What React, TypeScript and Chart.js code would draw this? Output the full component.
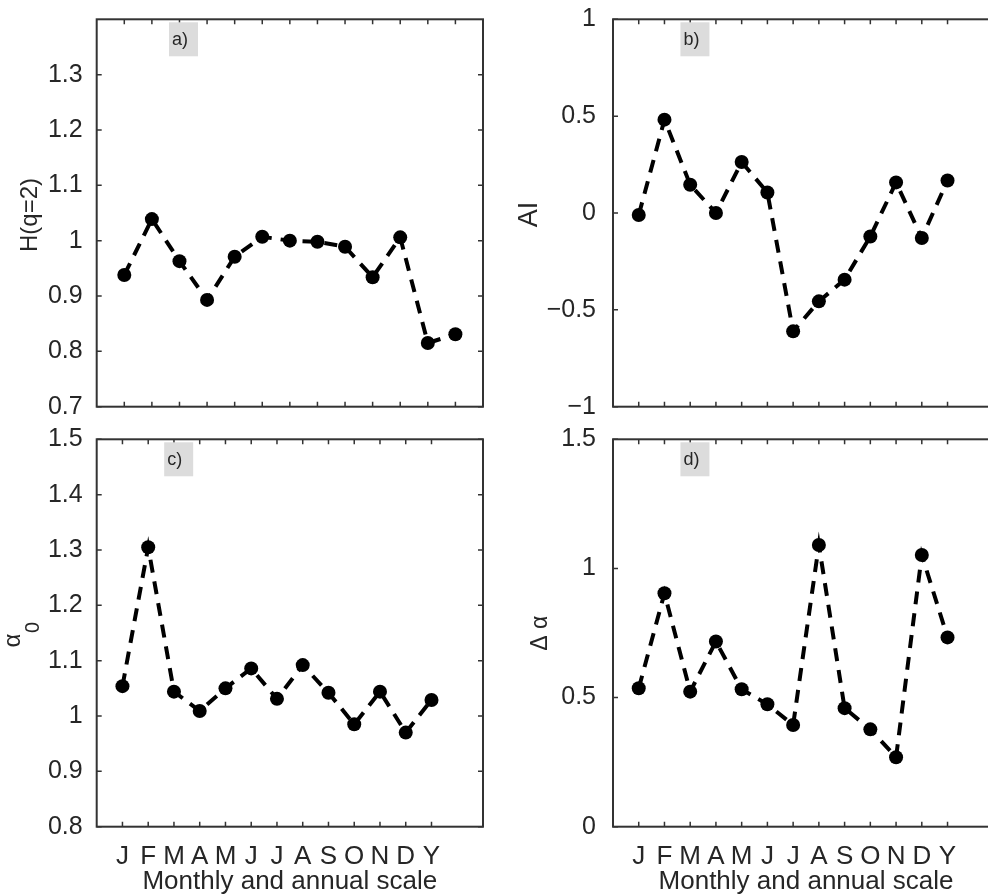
import React, { useEffect, useRef } from 'react';
import { Chart, registerables } from 'chart.js';

Chart.register(...registerables);

const FONT = '"Liberation Sans", Arial, Helvetica, sans-serif';
Chart.defaults.font.family = FONT;

const months = ['J', 'F', 'M', 'A', 'M', 'J', 'J', 'A', 'S', 'O', 'N', 'D', 'Y'];
const xTitle = 'Monthly and annual scale';

const hurst = [0.938, 1.039, 0.963, 0.893, 0.971, 1.007, 1.0, 0.998, 0.989, 0.934, 1.006, 0.815, 0.831];
const asymmetry = [-0.01, 0.482, 0.146, 0.0, 0.263, 0.106, -0.611, -0.456, -0.344, -0.121, 0.158, -0.129, 0.168];
const alpha0 = [1.054, 1.305, 1.044, 1.009, 1.05, 1.086, 1.031, 1.092, 1.042, 0.985, 1.044, 0.97, 1.029];
const deltaAlpha = [0.536, 0.904, 0.523, 0.717, 0.532, 0.474, 0.394, 1.091, 0.459, 0.377, 0.269, 1.052, 0.733];

const yTicksH = [0.7, 0.8, 0.9, 1.0, 1.1, 1.2, 1.3];
const yTicksAI = [-1, -0.5, 0, 0.5, 1];
const yTicksA0 = [0.8, 0.9, 1.0, 1.1, 1.2, 1.3, 1.4, 1.5];
const yTicksDA = [0, 0.5, 1, 1.5];

const TEXT = '#262626';
const FRAME = '#333333';

function fmt(v: number): string {
  const n = Math.round(v * 100) / 100;
  return String(n).replace('-', '\u2212');
}

type Area = { l: number; t: number; r: number; b: number };
type Panel = {
  id: string;
  letter: string;
  values: number[];
  yMin: number;
  yMax: number;
  yTicks: number[];
  xMax: number;
  left: number;
  top: number;
  width: number;
  height: number;
  area: Area;
  showX: boolean;
  yPad: number;
  yTitle: (ctx: CanvasRenderingContext2D) => void;
};

function rotText(ctx: CanvasRenderingContext2D, text: string, x: number, y: number, size: number) {
  ctx.save();
  ctx.translate(x, y);
  ctx.rotate(-Math.PI / 2);
  ctx.font = `${size}px ${FONT}`;
  ctx.fillStyle = TEXT;
  ctx.textAlign = 'center';
  ctx.textBaseline = 'alphabetic';
  ctx.fillText(text, 0, 0);
  ctx.restore();
}

const panels: Panel[] = [
  {
    id: 'a', letter: 'a)', values: hurst, yMin: 0.7, yMax: 1.4, yTicks: yTicksH, xMax: 14,
    left: 0, top: 0, width: 494, height: 420,
    area: { l: 96.7, t: 19.3, r: 483, b: 406.7 }, showX: false, yPad: 6,
    yTitle: (ctx) => rotText(ctx, 'H(q=2)', 36.5, 215, 24),
  },
  {
    id: 'b', letter: 'b)', values: asymmetry, yMin: -1, yMax: 1, yTicks: yTicksAI, xMax: 15,
    left: 494, top: 0, width: 530, height: 420,
    area: { l: 119, t: 19.3, r: 505, b: 406.7 }, showX: false, yPad: 9,
    yTitle: (ctx) => rotText(ctx, 'AI', 42.5, 214.5, 27),
  },
  {
    id: 'c', letter: 'c)', values: alpha0, yMin: 0.8, yMax: 1.5, yTicks: yTicksA0, xMax: 15,
    left: 0, top: 420, width: 494, height: 475,
    area: { l: 96.7, t: 19.3, r: 483, b: 406.7 }, showX: true, yPad: 6,
    yTitle: (ctx) => {
      ctx.save();
      ctx.translate(19.5, 227.5);
      ctx.rotate(-Math.PI / 2);
      ctx.textAlign = 'left';
      ctx.textBaseline = 'alphabetic';
      ctx.fillStyle = TEXT;
      ctx.font = `24px ${FONT}`;
      ctx.fillText('\u03b1', 0, 0);
      ctx.font = `20px ${FONT}`;
      ctx.fillText('0', 14.5, 19);
      ctx.restore();
    },
  },
  {
    id: 'd', letter: 'd)', values: deltaAlpha, yMin: 0, yMax: 1.5, yTicks: yTicksDA, xMax: 15,
    left: 494, top: 420, width: 530, height: 475,
    area: { l: 119, t: 19.3, r: 505, b: 406.7 }, showX: true, yPad: 9,
    yTitle: (ctx) => rotText(ctx, '\u0394 \u03b1', 52.5, 213.3, 23),
  },
];

function decorPlugin(p: Panel) {
  return {
    id: 'decor-' + p.id,
    afterDraw(chart: any) {
      const ctx: CanvasRenderingContext2D = chart.ctx;
      const { left, top, right, bottom } = chart.chartArea;
      const xs = chart.scales.x;
      const ys = chart.scales.y;
      ctx.save();
      // inward tick marks on all four sides
      ctx.strokeStyle = FRAME;
      ctx.lineWidth = 1.5;
      const tl = 5;
      ctx.beginPath();
      months.forEach((_, i) => {
        const px = xs.getPixelForValue(i + 1);
        ctx.moveTo(px, bottom);
        ctx.lineTo(px, bottom - tl);
        ctx.moveTo(px, top);
        ctx.lineTo(px, top + tl);
      });
      p.yTicks.forEach((v) => {
        const py = ys.getPixelForValue(v);
        ctx.moveTo(left, py);
        ctx.lineTo(left + tl, py);
        ctx.moveTo(right, py);
        ctx.lineTo(right - tl, py);
      });
      ctx.stroke();
      // frame
      ctx.lineWidth = 2;
      ctx.strokeRect(left, top, right - left, bottom - top);
      // panel letter box
      const bx = xs.getPixelForValue(2.62);
      const by = top + 3;
      ctx.fillStyle = '#dcdcdc';
      ctx.fillRect(bx, by, 29, 34);
      ctx.fillStyle = TEXT;
      ctx.font = `18px ${FONT}`;
      ctx.textAlign = 'left';
      ctx.textBaseline = 'middle';
      ctx.fillText(p.letter, bx + 3, by + 18);
      // y title
      p.yTitle(ctx);
      // x title
      if (p.showX) {
        ctx.fillStyle = TEXT;
        ctx.font = `26px ${FONT}`;
        ctx.textAlign = 'center';
        ctx.textBaseline = 'alphabetic';
        ctx.fillText(xTitle, (left + right) / 2, 468.5);
      }
      ctx.restore();
    },
  };
}

function PanelChart({ p }: { p: Panel }) {
  const ref = useRef<HTMLCanvasElement>(null);
  useEffect(() => {
    const chart = new Chart(ref.current as HTMLCanvasElement, {
      type: 'line',
      data: {
        datasets: [
          {
            data: p.values.map((v, i) => ({ x: i + 1, y: v })),
            borderColor: '#000',
            borderWidth: 4,
            borderDash: [13, 9],
            borderCapStyle: 'butt',
            pointRadius: 7,
            pointBackgroundColor: '#000',
            pointBorderWidth: 0,
            tension: 0,
            fill: false,
          } as any,
        ],
      },
      options: {
        responsive: false,
        animation: false,
        events: [],
        layout: { padding: { top: p.area.t, right: p.width - p.area.r, left: 0, bottom: 0 } },
        plugins: { legend: { display: false }, tooltip: { enabled: false } },
        scales: {
          x: {
            type: 'linear',
            min: 0,
            max: p.xMax,
            grid: { display: false },
            border: { display: false },
            afterBuildTicks: (s: any) => {
              s.ticks = months.map((_, i) => ({ value: i + 1 }));
            },
            ticks: {
              display: p.showX,
              autoSkip: false,
              maxRotation: 0,
              minRotation: 0,
              padding: 7,
              color: TEXT,
              font: { size: 26 },
              callback: (v: any) => months[Math.round(Number(v)) - 1] ?? '',
            },
            afterFit: (s: any) => {
              s.height = p.height - p.area.b;
              s.paddingLeft = 0;
              s.paddingRight = 0;
            },
          } as any,
          y: {
            type: 'linear',
            min: p.yMin,
            max: p.yMax,
            grid: { display: false },
            border: { display: false },
            afterBuildTicks: (s: any) => {
              s.ticks = p.yTicks.map((v) => ({ value: v }));
            },
            ticks: {
              padding: p.yPad,
              color: TEXT,
              font: { size: 25 },
              callback: (v: any) => fmt(Number(v)),
            },
            afterFit: (s: any) => {
              s.width = p.area.l;
              s.paddingTop = 0;
              s.paddingBottom = 0;
            },
          } as any,
        },
      },
      plugins: [decorPlugin(p)],
    });
    return () => chart.destroy();
  }, [p]);
  return (
    <canvas
      ref={ref}
      width={p.width}
      height={p.height}
      style={{ position: 'absolute', left: p.left, top: p.top, width: p.width, height: p.height }}
    />
  );
}

export default function App() {
  return (
    <div
      style={{
        position: 'fixed',
        left: 0,
        top: 0,
        width: 988,
        height: 895,
        overflow: 'hidden',
        background: '#fff',
      }}
    >
      {panels.map((p) => (
        <PanelChart key={p.id} p={p} />
      ))}
    </div>
  );
}
